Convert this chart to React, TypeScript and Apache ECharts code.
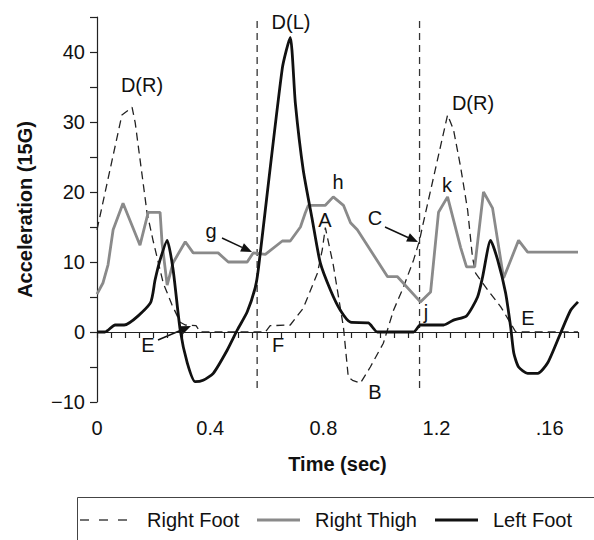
import React, { useEffect, useRef } from "react";
import * as echarts from "echarts";

// Time (sec) and acceleration values
const rightFootT = [0, 0.088, 0.124, 0.135, 0.177, 0.198, 0.234, 0.265, 0.294, 0.312, 0.35, 0.365, 0.595, 0.612, 0.683, 0.729, 0.779, 0.796, 0.807, 0.835, 0.871, 0.888, 0.903, 0.931, 0.966, 1.012, 1.048, 1.083, 1.119, 1.14, 1.15, 1.239, 1.26, 1.285, 1.31, 1.327, 1.338, 1.381, 1.427, 1.455, 1.48, 1.7];
const rightFootV = [14.6, 31.0, 32.1, 29.9, 17.0, 13.1, 7.0, 3.9, 1.4, 1.0, 0.9, 0.0, 0.0, 0.9, 1.0, 3.4, 8.4, 11.7, 14.9, 9.6, 0.7, -6.4, -6.9, -7.3, -5.0, -1.6, 3.1, 6.4, 10.3, 13.1, 15.0, 31.0, 28.9, 23.6, 17.4, 10.7, 8.4, 6.0, 3.6, 1.7, 0.0, 0.0];

const rightThighT = [0, 0.021, 0.039, 0.057, 0.092, 0.152, 0.181, 0.223, 0.23, 0.248, 0.269, 0.312, 0.34, 0.428, 0.464, 0.531, 0.552, 0.595, 0.655, 0.683, 0.719, 0.736, 0.747, 0.807, 0.835, 0.871, 0.896, 0.92, 1.027, 1.062, 1.143, 1.179, 1.207, 1.239, 1.285, 1.306, 1.335, 1.366, 1.398, 1.437, 1.49, 1.522, 1.7];
const rightThighV = [5.4, 7.0, 9.6, 14.6, 18.4, 12.4, 17.1, 17.1, 12.7, 6.7, 9.9, 12.9, 11.3, 11.3, 10.0, 10.0, 11.3, 11.1, 13.0, 13.0, 15.0, 17.0, 18.1, 18.1, 19.3, 18.1, 15.6, 14.6, 7.9, 7.9, 4.3, 5.7, 17.1, 19.3, 12.1, 9.3, 9.3, 20.0, 17.7, 7.7, 13.1, 11.4, 11.4];

const leftFootT = [0, 0.028, 0.064, 0.096, 0.188, 0.205, 0.223, 0.248, 0.269, 0.294, 0.319, 0.347, 0.375, 0.411, 0.46, 0.496, 0.531, 0.559, 0.57, 0.655, 0.683, 0.701, 0.729, 0.761, 0.789, 0.825, 0.86, 0.896, 0.959, 0.991, 1.119, 1.143, 1.225, 1.26, 1.306, 1.345, 1.363, 1.391, 1.416, 1.444, 1.462, 1.473, 1.49, 1.522, 1.558, 1.593, 1.639, 1.674, 1.7];
const leftFootV = [0.0, 0.0, 1.0, 1.0, 4.1, 7.4, 10.3, 13.1, 8.9, 0.3, -4.4, -7.1, -6.9, -5.9, -2.6, 0.3, 2.9, 6.3, 8.9, 37.7, 42.1, 32.7, 23.1, 16.0, 9.9, 6.0, 3.1, 1.4, 1.3, 0.0, 0.0, 1.0, 1.0, 1.7, 2.3, 5.0, 7.9, 13.1, 10.3, 5.6, 0.7, -3.0, -5.0, -5.9, -5.9, -4.4, -0.1, 3.1, 4.3];

// vertical event markers (time) and their extent
const markerTimes = [0.566, 1.14];
const markerRange = [-8, 45];

// axis tick labels
const xLabelValues = [0, 0.4, 0.8, 1.2, 1.6];
const xLabelTexts = ["0", "0.4", "0.8", "1.2", ".16"];
const yLabelValues = [-10, 0, 10, 20, 30, 40];

const seriesNames = ["Right Foot", "Right Thigh", "Left Foot"];

const FONT = '"Liberation Sans", Arial, Helvetica, sans-serif';
const GRAY = "#8a8a8a";
const BLACK = "#111";

function zip(t: number[], v: number[]) {
  return t.map((x, i) => [x, v[i]]);
}

function arrow(x0: number, y0: number, x1: number, y1: number) {
  const dx = x1 - x0;
  const dy = y1 - y0;
  const len = Math.sqrt(dx * dx + dy * dy);
  const ux = dx / len;
  const uy = dy / len;
  const hl = 11;
  const hw = 4.5;
  const bx = x1 - ux * hl;
  const by = y1 - uy * hl;
  return [
    {
      type: "line",
      shape: { x1: x0, y1: y0, x2: bx, y2: by },
      style: { stroke: BLACK, lineWidth: 1.5 },
      silent: true,
    },
    {
      type: "polygon",
      shape: {
        points: [
          [x1, y1],
          [bx - uy * hw, by + ux * hw],
          [bx + uy * hw, by - ux * hw],
        ],
      },
      style: { fill: BLACK },
      silent: true,
    },
  ];
}

function label(text: string, x: number, y: number) {
  return {
    type: "text",
    x,
    y,
    style: {
      text,
      fontSize: 20,
      fontFamily: FONT,
      fill: BLACK,
      align: "center",
      verticalAlign: "middle",
    },
    silent: true,
  };
}

export default function App() {
  const ref = useRef<HTMLDivElement>(null);

  useEffect(() => {
    if (!ref.current) return;
    const chart = echarts.init(ref.current, undefined, { renderer: "svg" });

    const legendY = 520;
    const graphic: any[] = [
      label("D(R)", 142, 85),
      label("D(L)", 291, 22),
      label("D(R)", 473, 103),
      label("g", 211, 231),
      label("h", 338, 182),
      label("A", 325, 220),
      label("C", 375, 218),
      label("k", 447, 185),
      label("j", 426, 312),
      label("E", 148, 345),
      label("F", 278, 345),
      label("B", 375, 392),
      label("E", 528, 318),
      ...arrow(222, 238, 252, 252),
      ...arrow(385, 227, 418, 242),
      ...arrow(158, 340, 191, 326),
      {
        type: "rect",
        shape: { x: 77.5, y: 497.5, width: 540, height: 80 },
        style: { fill: "none", stroke: "#444", lineWidth: 1 },
        silent: true,
      },
      {
        type: "line",
        shape: { x1: 80, y1: legendY, x2: 132, y2: legendY },
        style: { stroke: "#444", lineWidth: 1.3, lineDash: [9, 10] },
        silent: true,
      },
      {
        type: "text",
        x: 147,
        y: legendY,
        style: { text: seriesNames[0], fontSize: 20, fontFamily: FONT, fill: BLACK, verticalAlign: "middle" },
        silent: true,
      },
      {
        type: "line",
        shape: { x1: 257, y1: legendY, x2: 300, y2: legendY },
        style: { stroke: GRAY, lineWidth: 3 },
        silent: true,
      },
      {
        type: "text",
        x: 315,
        y: legendY,
        style: { text: seriesNames[1], fontSize: 20, fontFamily: FONT, fill: BLACK, verticalAlign: "middle" },
        silent: true,
      },
      {
        type: "line",
        shape: { x1: 435, y1: legendY, x2: 478, y2: legendY },
        style: { stroke: BLACK, lineWidth: 2.8 },
        silent: true,
      },
      {
        type: "text",
        x: 493,
        y: legendY,
        style: { text: seriesNames[2], fontSize: 20, fontFamily: FONT, fill: BLACK, verticalAlign: "middle" },
        silent: true,
      },
    ];

    const markerSeries = markerTimes.map((t) => ({
      type: "line",
      data: [
        [t, markerRange[0]],
        [t, markerRange[1]],
      ],
      showSymbol: false,
      symbol: "none",
      lineStyle: { color: "#333", width: 1.3, type: [7, 5] },
      silent: true,
      z: 1,
    }));

    chart.setOption({
      animation: false,
      backgroundColor: "#fff",
      textStyle: { fontFamily: FONT },
      grid: { left: 97, right: 16, top: 17, bottom: 138, containLabel: false },
      xAxis: {
        type: "value",
        min: 0,
        max: 1.7,
        interval: 0.05,
        name: "Time (sec)",
        nameLocation: "middle",
        nameGap: 52,
        nameTextStyle: { fontSize: 20, fontWeight: "bold", color: BLACK, fontFamily: FONT },
        axisLine: { show: true, lineStyle: { color: "#222", width: 1.2 } },
        axisTick: { show: true, length: 6, lineStyle: { color: "#222", width: 1.2 } },
        splitLine: { show: false },
        axisLabel: {
          fontSize: 20,
          color: BLACK,
          fontFamily: FONT,
          margin: 16,
          showMaxLabel: true,
          formatter: (v: number) => {
            const i = xLabelValues.findIndex((x) => Math.abs(x - v) < 1e-6);
            return i >= 0 ? xLabelTexts[i] : "";
          },
        },
      },
      yAxis: {
        type: "value",
        min: -10,
        max: 45,
        interval: 5,
        name: "Acceleration (15G)",
        nameLocation: "middle",
        nameGap: 62,
        nameRotate: 90,
        nameTextStyle: { fontSize: 20, fontWeight: "bold", color: BLACK, fontFamily: FONT },
        axisLine: { show: true, lineStyle: { color: "#222", width: 1.2 } },
        axisTick: { show: true, length: 7, lineStyle: { color: "#222", width: 1.2 } },
        splitLine: { show: false },
        axisLabel: {
          fontSize: 20,
          color: BLACK,
          fontFamily: FONT,
          margin: 12,
          formatter: (v: number) => {
            const r = Math.round(v);
            if (!yLabelValues.includes(r)) return "";
            return r < 0 ? "\u2212" + Math.abs(r) : String(r);
          },
        },
      },
      series: [
        ...markerSeries,
        {
          name: seriesNames[0],
          type: "line",
          data: zip(rightFootT, rightFootV),
          showSymbol: false,
          symbol: "none",
          lineStyle: { color: "#222", width: 1.3, type: [8, 5] },
          z: 2,
        },
        {
          name: seriesNames[1],
          type: "line",
          data: zip(rightThighT, rightThighV),
          showSymbol: false,
          symbol: "none",
          lineStyle: { color: GRAY, width: 2.8 },
          z: 3,
        },
        {
          name: seriesNames[2],
          type: "line",
          data: zip(leftFootT, leftFootV),
          showSymbol: false,
          symbol: "none",
          smooth: 0.2,
          lineStyle: { color: BLACK, width: 2.8 },
          z: 4,
        },
      ],
      graphic,
    });

    return () => chart.dispose();
  }, []);

  return (
    <div
      ref={ref}
      style={{ position: "fixed", left: 0, top: 0, width: 594, height: 540, background: "#fff" }}
    />
  );
}
